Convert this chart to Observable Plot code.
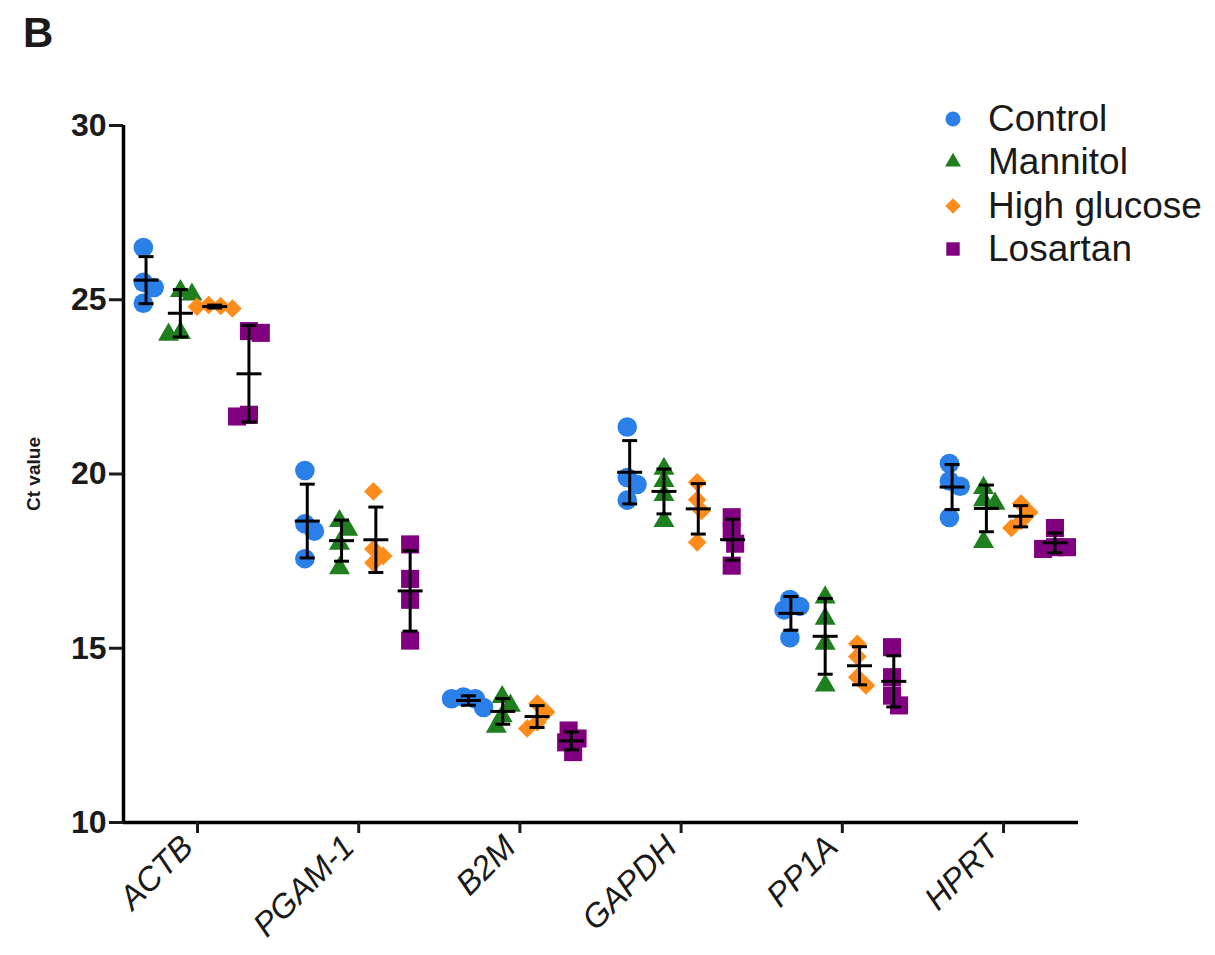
<!DOCTYPE html>
<html>
<head>
<meta charset="utf-8">
<script src="https://cdn.jsdelivr.net/npm/d3@7"></script>
<script src="https://cdn.jsdelivr.net/npm/@observablehq/plot@0.6"></script>
<style>
  html, body { margin: 0; padding: 0; background: #fff; }
  #figure { position: relative; width: 1215px; height: 955px; font-family: "Liberation Sans", Arial, sans-serif; color: #1a1a1a; }
  #panel { position: absolute; left: 23px; top: 9px; font-size: 42px; font-weight: bold; }
  #legend { position: absolute; left: 941px; top: 97px; }
  .row { display: flex; align-items: center; height: 43.5px; font-size: 37px; }
  .row svg { width: 24px; height: 24px; margin-right: 23px; flex: none; }
</style>
</head>
<body>
<div id="figure">
  <div id="panel">B</div>
  <div id="legend"></div>
</div>
<script>
// Reference genes on the x axis, treatment groups as series
const genes = ["ACTB", "PGAM-1", "B2M", "GAPDH", "PP1A", "HPRT"];
const groups = ["Control", "Mannitol", "High glucose", "Losartan"];

// Ct values: one row of four replicates per gene, in gene order
const control = [
  [26.5, 25.5, 25.35, 24.9],
  [20.1, 18.57, 18.36, 17.57],
  [13.55, 13.3, 13.55, 13.6],
  [21.35, 19.9, 19.25, 19.7],
  [16.4, 16.2, 15.3, 16.1],
  [20.3, 19.8, 18.75, 19.65]
];
const mannitol = [
  [25.25, 25.15, 24.0, 24.05],
  [18.65, 18.4, 18.0, 17.3],
  [13.6, 13.35, 13.05, 12.75],
  [20.15, 19.8, 19.4, 18.65],
  [16.46, 15.85, 15.13, 13.93],
  [19.6, 19.25, 19.15, 18.05]
];
const highGlucose = [
  [24.75, 24.85, 24.8, 24.82],
  [19.5, 17.85, 17.65, 17.45],
  [13.17, 13.41, 12.7, 12.88],
  [19.76, 19.26, 18.04, 18.94],
  [15.13, 14.76, 14.17, 13.93],
  [19.15, 18.9, 18.65, 18.45]
];
const losartan = [
  [24.1, 24.05, 21.65, 21.7],
  [17.98, 16.99, 16.39, 15.22],
  [12.41, 12.64, 12.02, 12.3],
  [18.76, 18.33, 18.0, 17.37],
  [15.03, 14.17, 13.64, 13.36],
  [18.45, 17.9, 17.85, 17.9]
];
const yTicks = [10, 15, 20, 25, 30];

const seriesValues = [control, mannitol, highGlucose, losartan];
const colors = ["#2b7fe8", "#1f7f1f", "#ff8c1a", "#800080"];
const symbols = ["circle", "triangle", "diamond2", "square"];
const radii = [9.8, 7.8, 8.4, 10.2];

// Layout
const W = 1215, H = 955;
const mL = 123, mR = 137, mT = 125, mB = 133;
const xDomain = [-0.459, 5.465];
const yDomain = [10, 30];
const pxPerX = (W - mL - mR) / (xDomain[1] - xDomain[0]);
const pxPerY = (H - mT - mB) / (yDomain[1] - yDomain[0]);
const seriesStep = 34.3 / pxPerX;

// Scatter-dot spreading: points closer than `gap` pixels are pushed sideways
function spread(values, gap) {
  const order = d3.range(values.length).sort((a, b) => values[b] - values[a]);
  const placed = [];
  const off = new Array(values.length).fill(0);
  for (const i of order) {
    const y = values[i] * pxPerY;
    const blocks = placed
      .filter(p => Math.abs(p.y - y) < gap)
      .map(p => { const h = Math.sqrt(gap * gap - (p.y - y) ** 2); return [p.x - h, p.x + h]; });
    const cands = [0, ...blocks.flat()].filter(c => blocks.every(([a, b]) => c <= a + 1e-6 || c >= b - 1e-6));
    const bias = d3.sum(placed, p => p.x);
    cands.sort((a, b) => Math.abs(a) - Math.abs(b) || (bias > 0 ? a - b : b - a));
    const x = cands[0];
    placed.push({x, y});
    off[i] = x;
  }
  const m = d3.mean(off);
  return off.map(o => o - m);
}

const points = [];
const stats = [];
groups.forEach((g, s) => {
  genes.forEach((gene, gi) => {
    const vals = seriesValues[s][gi];
    const center = gi + (s - 1.5) * seriesStep;
    const offs = spread(vals, 12);
    vals.forEach((v, k) => points.push({group: g, s, gene, x: center + offs[k] / pxPerX, y: v}));
    const mean = d3.mean(vals), sd = d3.deviation(vals);
    stats.push({group: g, gene, x: center, mean, lo: mean - sd, hi: mean + sd});
  });
});

// Short horizontal bar used for the mean line and the error-bar caps
const hline = {draw(ctx, size) { const w = Math.sqrt(size / Math.PI); ctx.moveTo(-w, 0); ctx.lineTo(w, 0); }};

const font = "Liberation Sans, Arial, sans-serif";
const geneTicks = d3.range(genes.length);

const chart = Plot.plot({
  width: W, height: H,
  marginLeft: mL, marginRight: mR, marginTop: mT, marginBottom: mB,
  style: {fontFamily: font, background: "white", color: "#1a1a1a", overflow: "visible"},
  x: {domain: xDomain},
  y: {domain: yDomain},
  marks: [
    ...groups.map((g, s) => Plot.dot(points.filter(d => d.s === s), {
      x: "x", y: "y", symbol: () => symbols[s], r: radii[s], fill: colors[s], stroke: "none"
    })),
    Plot.ruleX(stats, {x: "x", y1: "lo", y2: "hi", stroke: "black", strokeWidth: 3}),
    Plot.dot(stats, {x: "x", y: "hi", symbol: hline, r: 7.5, fill: "none", stroke: "black", strokeWidth: 3}),
    Plot.dot(stats, {x: "x", y: "lo", symbol: hline, r: 7.5, fill: "none", stroke: "black", strokeWidth: 3}),
    Plot.dot(stats, {x: "x", y: "mean", symbol: hline, r: 12.5, fill: "none", stroke: "black", strokeWidth: 3}),
    Plot.ruleX([xDomain[0]], {stroke: "black", strokeWidth: 3.5}),
    Plot.ruleY([yDomain[0]], {stroke: "black", strokeWidth: 3.5}),
    Plot.axisY({
      ticks: yTicks, tickSize: 14, tickPadding: 3, strokeWidth: 3,
      fontSize: 32, fontWeight: "bold", label: null
    }),
    // gene tick marks
    Plot.axisX({
      ticks: geneTicks, tickSize: 11, strokeWidth: 3, fill: "none", label: null
    }),
    // gene names, slanted under their ticks
    Plot.axisX({
      ticks: geneTicks, tickFormat: i => genes[i],
      tickSize: 0, tickPadding: 19, tickRotate: -45,
      fontSize: 33, fontStyle: "italic", label: null, dx: -10, dy: 0
    }),
    Plot.text(["Ct value"], {
      frameAnchor: "left", textAnchor: "middle", dx: -90, rotate: -90, fontSize: 19, fontWeight: "bold"
    })
  ]
});
chart.style.position = "absolute";
chart.style.left = "0px";
chart.style.top = "0px";
document.getElementById("figure").prepend(chart);

// Legend: symbol swatch and group name per row
const legend = d3.select("#legend");
groups.forEach((g, s) => {
  const row = legend.append("div").attr("class", "row");
  const sw = row.append("svg").attr("viewBox", "-12 -12 24 24");
  const sym = {circle: d3.symbolCircle, triangle: d3.symbolTriangle, diamond2: d3.symbolDiamond2, square: d3.symbolSquare}[symbols[s]];
  const area = [180, 110, 150, 180][s];
  sw.append("path").attr("d", d3.symbol(sym, area)()).attr("fill", colors[s]);
  row.append("span").text(g);
});
</script>
</body>
</html>
